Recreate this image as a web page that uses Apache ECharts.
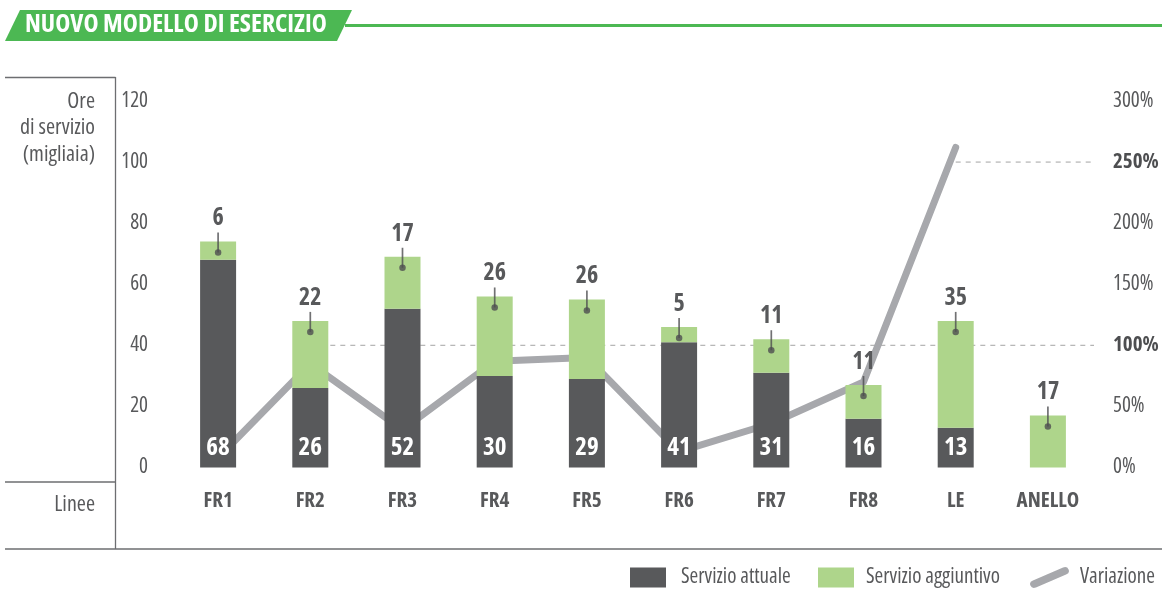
<!DOCTYPE html>
<html>
<head>
<meta charset="utf-8">
<script src="https://cdn.jsdelivr.net/npm/echarts@6/dist/echarts.min.js"></script>
<style>
  html, body { margin: 0; padding: 0; background: #ffffff; }
  #chart { width: 1162px; height: 589px; }
</style>
</head>
<body>
<div id="chart"></div>
<script>
// Service hours per line (thousands) and percentage change
const categories = ['FR1', 'FR2', 'FR3', 'FR4', 'FR5', 'FR6', 'FR7', 'FR8', 'LE', 'ANELLO'];
const currentService = [68, 26, 52, 30, 29, 41, 31, 16, 13, null];
const additionalService = [6, 22, 17, 26, 26, 5, 11, 11, 35, 17];
const variation = [8, 85, 31, 87, 90, 13, 36, 70, 262, null];

// Axis ranges
const hoursAxis = { min: 0, max: 120, interval: 20 };
const percentAxis = { min: 0, max: 300, interval: 50 };
const highlightedPercents = [100, 250];

// Dashed reference levels on the percent axis, starting at a given line
const referenceLevels = [
  { from: 'FR2', value: 100 },
  { from: 'LE', value: 250 }
];

// Open Sans has a width axis; the "condensed" keyword selects its narrow cut
const FONT = "'Open Sans'";
const REG = 'condensed';
const BOLD = 'bold condensed';
const DARK = '#58595b';
const GREEN = '#aed58b';
const LINE_GRAY = '#a7a8ac';
const TEXT = '#58595b';
const RULE = '#6d6e71';
const LINE_ICON = 'path://M3,16 L33,3 Q37,1.5 38.5,5 Q40,8.5 36,10 L6,23 Q2,24.5 0.5,21 Q-1,17.5 3,16 Z';

const totals = categories.map((_, i) => (currentService[i] || 0) + (additionalService[i] || 0));

const refSeries = referenceLevels.map(r => ({
  type: 'line',
  xAxisIndex: 1,
  yAxisIndex: 1,
  z: 0,
  silent: true,
  symbol: 'none',
  lineStyle: { color: '#b3b3b3', width: 1.2, type: [5, 5] },
  data: [[categories.indexOf(r.from) + 0.5, r.value], [categories.length, r.value]]
}));

function legendAt(left, name, icon, w, h, gap) {
  return {
    left: left,
    top: 567,
    padding: 0,
    itemWidth: w,
    itemHeight: h,
    selectedMode: false,
    textStyle: { fontFamily: FONT, fontWeight: REG, fontSize: 21, color: TEXT, padding: [0, 0, 0, gap] },
    data: [{ name: name, icon: icon }]
  };
}

const chart = echarts.init(document.getElementById('chart'), null, { renderer: 'canvas' });

chart.setOption({
  animation: false,
  textStyle: { fontFamily: FONT },
  grid: { left: 172, right: 68, top: 101, bottom: 121.5 },
  legend: [
    legendAt(630, 'Servizio attuale', 'rect', 36, 20, 10),
    legendAt(818, 'Servizio aggiuntivo', 'rect', 36, 20, 7),
    legendAt(1030, 'Variazione', LINE_ICON, 39, 21, 6)
  ],
  xAxis: [
    {
      type: 'category',
      data: categories,
      axisLine: { show: false },
      axisTick: { show: false },
      axisLabel: { interval: 0, margin: 23, fontFamily: FONT, fontSize: 21, fontWeight: BOLD, color: TEXT }
    },
    { type: 'value', min: 0, max: categories.length, show: false }
  ],
  yAxis: [
    {
      type: 'value',
      min: hoursAxis.min, max: hoursAxis.max, interval: hoursAxis.interval,
      axisLine: { show: false }, axisTick: { show: false }, splitLine: { show: false },
      axisLabel: { margin: 24, fontFamily: FONT, fontWeight: REG, fontSize: 21, color: TEXT }
    },
    {
      type: 'value',
      min: percentAxis.min, max: percentAxis.max, interval: percentAxis.interval,
      axisLine: { show: false }, axisTick: { show: false }, splitLine: { show: false },
      axisLabel: {
        margin: 19,
        formatter: v => highlightedPercents.includes(v) ? '{b|' + v + '%}' : '{n|' + v + '%}',
        rich: {
          n: { fontFamily: FONT, fontWeight: REG, fontSize: 21, color: TEXT },
          b: { fontFamily: FONT, fontWeight: BOLD, fontSize: 21, color: '#4d4e50' }
        }
      }
    }
  ],
  series: [
    ...refSeries,
    {
      name: 'Variazione',
      type: 'line',
      yAxisIndex: 1,
      z: 1,
      symbol: 'none',
      lineStyle: { color: LINE_GRAY, width: 7, cap: 'round', join: 'round' },
      itemStyle: { color: LINE_GRAY },
      data: variation
    },
    {
      name: 'Servizio attuale',
      type: 'bar',
      stack: 'ore',
      barWidth: 36,
      z: 2,
      itemStyle: { color: DARK },
      label: {
        show: true,
        position: 'insideBottom',
        distance: 7,
        fontFamily: FONT,
        fontSize: 25,
        fontWeight: BOLD,
        color: '#ffffff',
        formatter: p => (p.value == null ? '' : p.value)
      },
      data: currentService
    },
    {
      name: 'Servizio aggiuntivo',
      type: 'bar',
      stack: 'ore',
      barWidth: 36,
      z: 2,
      itemStyle: { color: GREEN },
      label: {
        show: true,
        position: 'top',
        distance: 11,
        fontFamily: FONT,
        fontSize: 24,
        fontWeight: BOLD,
        color: TEXT
      },
      data: additionalService
    },
    {
      // leader stroke from each label down into the added segment
      type: 'scatter',
      z: 3,
      silent: true,
      symbol: 'rect',
      symbolSize: [1.7, 20],
      symbolOffset: [0, 1],
      itemStyle: { color: '#4d4e50' },
      data: totals
    },
    {
      type: 'scatter',
      z: 4,
      silent: true,
      symbol: 'circle',
      symbolSize: 6.5,
      symbolOffset: [0, 11],
      itemStyle: { color: '#4d4e50' },
      data: totals
    }
  ],
  graphic: [
    // header banner
    { type: 'polygon', shape: { points: [[20, 10], [352, 10], [337, 41], [5, 41]] }, style: { fill: '#4cb853' } },
    { type: 'rect', shape: { x: 345, y: 24, width: 817, height: 3 }, style: { fill: '#4cb853' } },
    {
      type: 'text', x: 25, y: 25,
      style: { text: 'NUOVO MODELLO DI ESERCIZIO', fill: '#ffffff', font: BOLD + ' 25.5px ' + FONT, verticalAlign: 'middle' }
    },
    // frame rules
    { type: 'line', shape: { x1: 5, y1: 77.5, x2: 115.5, y2: 77.5 }, style: { stroke: RULE, lineWidth: 1.3 } },
    { type: 'line', shape: { x1: 115.5, y1: 77, x2: 115.5, y2: 549 }, style: { stroke: RULE, lineWidth: 1.3 } },
    { type: 'line', shape: { x1: 5, y1: 482, x2: 115.5, y2: 482 }, style: { stroke: RULE, lineWidth: 1.3 } },
    { type: 'line', shape: { x1: 5, y1: 549, x2: 1162, y2: 549 }, style: { stroke: RULE, lineWidth: 1.3 } },
    // axis titles
    {
      type: 'text', x: 95, y: 88,
      style: { text: 'Ore\ndi servizio\n(migliaia)', fill: TEXT, font: REG + ' 22px ' + FONT, align: 'right', verticalAlign: 'top', lineHeight: 26.5 }
    },
    {
      type: 'text', x: 95, y: 505,
      style: { text: 'Linee', fill: TEXT, font: REG + ' 22px ' + FONT, align: 'right', verticalAlign: 'middle' }
    }
  ]
});
</script>
</body>
</html>
